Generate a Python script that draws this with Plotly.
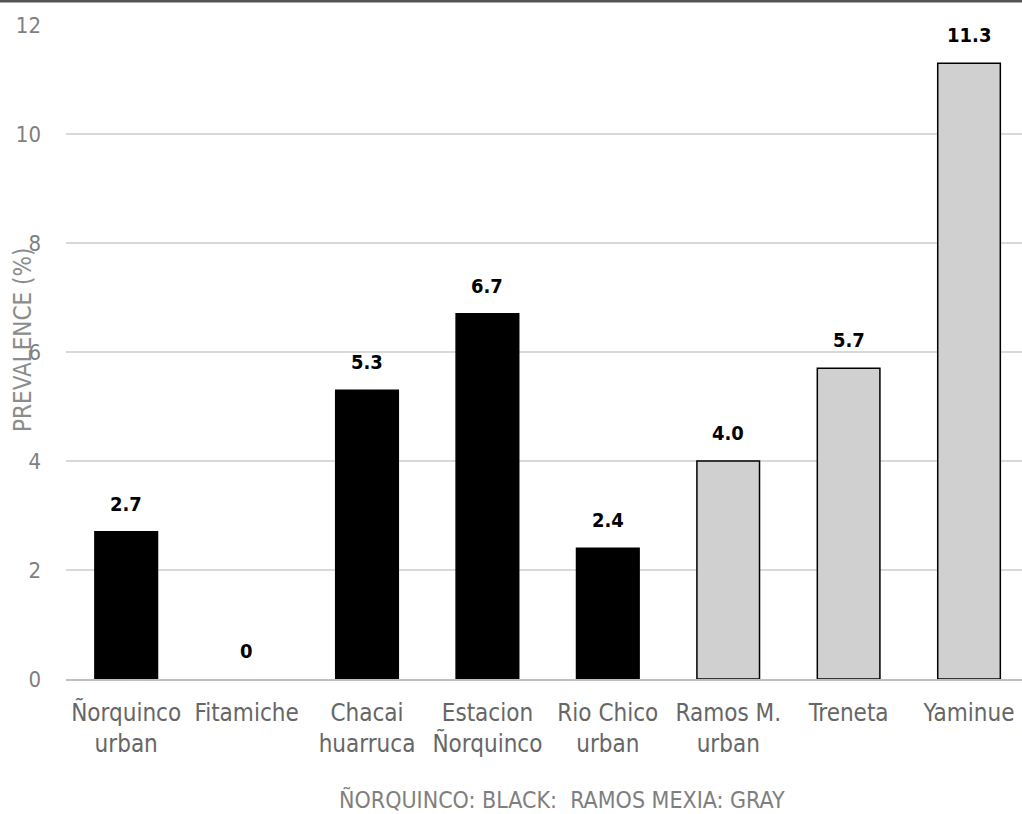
import plotly.graph_objects as go

categories = ["Ñorquinco<br>urban", "Fitamiche", "Chacai<br>huarruca", "Estacion<br>Ñorquinco",
              "Rio Chico<br>urban", "Ramos M.<br>urban", "Treneta", "Yaminue"]
values = [2.7, 0, 5.3, 6.7, 2.4, 4.0, 5.7, 11.3]
value_labels = ["2.7", "0", "5.3", "6.7", "2.4", "4.0", "5.7", "11.3"]
groups = ["Ñorquinco"] * 5 + ["Ramos Mexia"] * 3
group_colors = {"Ñorquinco": "#000000", "Ramos Mexia": "#d0d0d0"}
y_ticks = [0, 2, 4, 6, 8, 10, 12]

W, H = 1022, 814
ML, MR, MT, MB = 66, 0, 25, 135
PW = W - ML - MR
PH = H - MT - MB

cond = "DejaVu Sans Condensed, DejaVu Sans, sans-serif"

fig = go.Figure()
fig.add_trace(go.Bar(
    x=categories, y=values,
    marker=dict(color=[group_colors[g] for g in groups],
                line=dict(color="#000000", width=[1.5 if v > 0 else 0 for v in values])),
    showlegend=False, hoverinfo="x+y",
))

for c, v, t in zip(categories, values, value_labels):
    fig.add_annotation(x=c, y=v, text="<b>" + t + "</b>", showarrow=False,
                       xanchor="center", yanchor="middle",
                       yshift=28, font=dict(size=20, color="#000000", family=cond))

fig.add_annotation(xref="paper", yref="paper", x=(23 - ML) / PW, y=(H - MB - 340) / PH,
                   xanchor="center", yanchor="middle",
                   text="PREVALENCE (%)", textangle=-90, showarrow=False,
                   font=dict(size=24, color="#8c8c8c", family=cond))
fig.add_annotation(xref="paper", yref="paper", x=(562 - ML) / PW, y=-(799 - (H - MB)) / PH,
                   xanchor="center", yanchor="middle",
                   text="ÑORQUINCO: BLACK:  RAMOS MEXIA: GRAY", showarrow=False,
                   font=dict(size=23, color="#7f7f7f", family=cond))

fig.add_shape(type="line", xref="paper", yref="paper", x0=-ML / PW, x1=1 + MR / PW,
              y0=1 + (MT - 1) / PH, y1=1 + (MT - 1) / PH, line=dict(color="#555555", width=3))

fig.update_layout(
    width=W, height=H,
    margin=dict(l=ML, r=MR, t=MT, b=MB),
    plot_bgcolor="white", paper_bgcolor="white",
    bargap=0.48,
    xaxis=dict(type="category", range=[-0.5, 7.44], showgrid=False,
               showline=True, linecolor="#bfbfbf", linewidth=1.5,
               tickfont=dict(size=24, color="#666666", family=cond),
               ticks="", ticklabelstandoff=11),
    yaxis=dict(range=[0, 12], tickvals=y_ticks, showgrid=True, gridcolor="#d9d9d9",
               gridwidth=1.5, zeroline=False, showline=False,
               tickfont=dict(size=22, color="#7f7f7f", family=cond),
               ticks="", ticklabelstandoff=24),
)

fig.write_html("out.html", config={"displayModeBar": False},
               post_script="document.body.style.margin='0';")
